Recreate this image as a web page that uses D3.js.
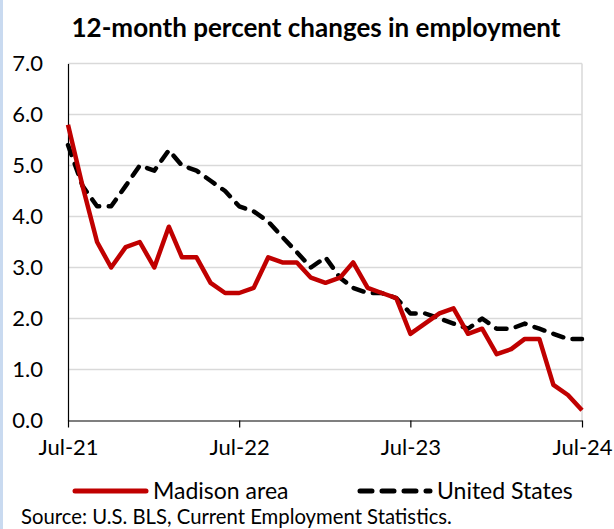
<!DOCTYPE html>
<html>
<head>
  <meta charset="utf-8">
  <title>12-month percent changes in employment</title>
  <style>
    body {
      margin: 0;
      background: #ffffff;
    }
    svg text {
      font-family: Lato, "Open Sans", sans-serif;
      fill: #000;
    }
  </style>
</head>
<body>
  <svg id="chart"></svg>

  <script src="https://d3js.org/d3.v7.min.js"></script>
  <script>
    // Months (Jul-21 .. Jul-24)
    const months = [
      "2021-07", "2021-08", "2021-09", "2021-10", "2021-11", "2021-12",
      "2022-01", "2022-02", "2022-03", "2022-04", "2022-05", "2022-06",
      "2022-07", "2022-08", "2022-09", "2022-10", "2022-11", "2022-12",
      "2023-01", "2023-02", "2023-03", "2023-04", "2023-05", "2023-06",
      "2023-07", "2023-08", "2023-09", "2023-10", "2023-11", "2023-12",
      "2024-01", "2024-02", "2024-03", "2024-04", "2024-05", "2024-06",
      "2024-07"
    ];

    const madison = [
      5.8, 4.6, 3.5, 3.0, 3.4, 3.5, 3.0, 3.8, 3.2, 3.2, 2.7, 2.5,
      2.5, 2.6, 3.2, 3.1, 3.1, 2.8, 2.7, 2.8, 3.1, 2.6, 2.5, 2.4,
      1.7, 1.9, 2.1, 2.2, 1.7, 1.8, 1.3, 1.4, 1.6, 1.6, 0.7, 0.5,
      0.2
    ];

    const unitedStates = [
      5.4, 4.6, 4.2, 4.2, 4.6, 5.0, 4.9, 5.3, 5.0, 4.9, 4.7, 4.5,
      4.2, 4.1, 3.9, 3.6, 3.3, 3.0, 3.2, 2.8, 2.6, 2.5, 2.5, 2.4,
      2.1, 2.1, 2.0, 1.9, 1.8, 2.0, 1.8, 1.8, 1.9, 1.8, 1.7, 1.6,
      1.6
    ];

    const xTickMonths = ["2021-07", "2022-07", "2023-07", "2024-07"];
    const yTicks = [0, 1, 2, 3, 4, 5, 6, 7];

    const series = [
      { name: "Madison area", values: madison, color: "#c00000", dash: null },
      { name: "United States", values: unitedStates, color: "#000000", dash: "10.5,9.5" }
    ];

    const width = 614;
    const height = 529;
    const margin = { top: 63.5, right: 32, bottom: 108.5, left: 68 };

    const parse = d3.timeParse("%Y-%m");
    const dates = months.map(parse);

    const svg = d3.select("#chart")
      .attr("width", width)
      .attr("height", height);

    // light blue strip on the left edge
    svg.append("rect")
      .attr("x", 0).attr("y", 0)
      .attr("width", 3).attr("height", height)
      .attr("fill", "#c9daf0");

    const x = d3.scaleTime()
      .domain(d3.extent(dates))
      .range([margin.left, width - margin.right]);

    const y = d3.scaleLinear()
      .domain([0, 7])
      .range([height - margin.bottom, margin.top]);

    // title
    svg.append("text")
      .attr("x", 316)
      .attr("y", 37)
      .attr("text-anchor", "middle")
      .attr("font-size", 26)
      .attr("font-weight", "bold")
      .text("12-month percent changes in employment");

    // gridlines
    svg.append("g")
      .selectAll("line")
      .data(yTicks.filter(d => d > 0))
      .join("line")
      .attr("x1", margin.left)
      .attr("x2", width - margin.right)
      .attr("y1", d => y(d))
      .attr("y2", d => y(d))
      .attr("stroke", "#d9d9d9")
      .attr("stroke-width", 1.5);

    // right border of plot area
    svg.append("line")
      .attr("x1", width - margin.right)
      .attr("x2", width - margin.right)
      .attr("y1", y(7))
      .attr("y2", y(0))
      .attr("stroke", "#d9d9d9")
      .attr("stroke-width", 1.5);

    // y axis
    const yAxis = svg.append("g")
      .attr("transform", `translate(${margin.left},0)`)
      .call(d3.axisLeft(y).tickValues(yTicks).tickFormat(d3.format(".1f")).tickSize(0).tickPadding(25));
    yAxis.select(".domain").attr("stroke", "#000").attr("stroke-width", 1.2);
    yAxis.selectAll("text")
      .attr("font-size", 22)
      .attr("font-family", "Lato, sans-serif");

    // x axis
    const xAxis = svg.append("g")
      .attr("transform", `translate(0,${y(0)})`)
      .call(d3.axisBottom(x)
        .tickValues(xTickMonths.map(parse))
        .tickFormat(d3.timeFormat("%b-%y"))
        .tickSize(7)
        .tickSizeOuter(0)
        .tickPadding(12));
    xAxis.select(".domain").attr("stroke", "#000").attr("stroke-width", 1.2);
    xAxis.selectAll(".tick line").attr("stroke", "#000").attr("stroke-width", 1.2);
    xAxis.selectAll("text")
      .attr("font-size", 22)
      .attr("font-family", "Lato, sans-serif");

    // lines
    const line = d3.line()
      .x((d, i) => x(dates[i]))
      .y(d => y(d));

    svg.append("g")
      .selectAll("path")
      .data(series.slice().reverse())
      .join("path")
      .attr("d", d => line(d.values))
      .attr("fill", "none")
      .attr("stroke", d => d.color)
      .attr("stroke-width", 4.5)
      .attr("stroke-dasharray", d => d.dash)
      .attr("stroke-linecap", d => d.dash ? "round" : "butt")
      .attr("stroke-linejoin", "round");

    // legend
    const legendY = 491;
    const legendItems = [
      { s: series[0], x1: 75, x2: 146, tx: 153 },
      { s: series[1], x1: 360, x2: 430, tx: 437 }
    ];
    const lg = svg.append("g")
      .selectAll("g")
      .data(legendItems)
      .join("g");
    lg.append("line")
      .attr("x1", d => d.x1)
      .attr("x2", d => d.x2)
      .attr("y1", legendY)
      .attr("y2", legendY)
      .attr("stroke", d => d.s.color)
      .attr("stroke-width", 5)
      .attr("stroke-dasharray", d => d.s.dash ? "12,10" : null)
      .attr("stroke-linecap", "round");
    lg.append("text")
      .attr("x", d => d.tx)
      .attr("y", legendY)
      .attr("dy", "0.35em")
      .attr("font-size", 23)
      .text(d => d.s.name);

    // source
    svg.append("text")
      .attr("x", 21)
      .attr("y", 524)
      .attr("font-size", 20.3)
      .text("Source: U.S. BLS, Current Employment Statistics.");
  </script>
</body>
</html>
